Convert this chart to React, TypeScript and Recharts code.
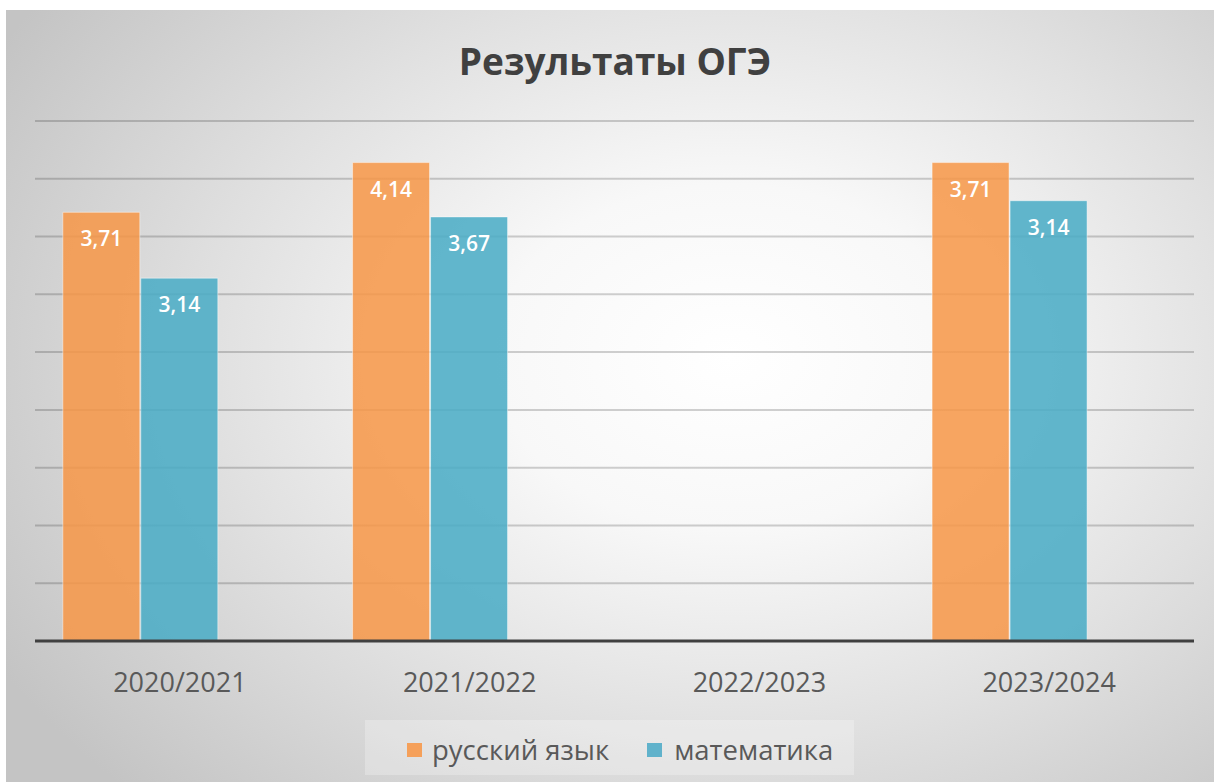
import React from 'react';
import { BarChart, Bar, XAxis, YAxis, CartesianGrid, LabelList } from 'recharts';

// учебные годы
const years = ['2020/2021', '2021/2022', '2022/2023', '2023/2024'];
// высота столбцов (как на картинке)
const russian = [3.71, 4.14, null, 4.14];
const math = [3.14, 3.67, null, 3.81];
// подписи на столбцах
const russianLabels = ['3,71', '4,14', '', '3,71'];
const mathLabels = ['3,14', '3,67', '', '3,14'];
const yTicks = [0, 0.5, 1, 1.5, 2, 2.5, 3, 3.5, 4, 4.5];

const data = years.map((year, i) => ({
  year,
  russian: russian[i],
  math: math[i],
  extra: null,
  ruLabel: russianLabels[i],
  mathLabel: mathLabels[i],
}));

const FONT = '"Open Sans", "Noto Sans", sans-serif';

const App: React.FC = () => {
  return (
    <div
      style={{
        position: 'absolute',
        left: 0,
        top: 0,
        width: 1214,
        height: 782,
        background: '#ffffff',
        overflow: 'hidden',
        fontFamily: FONT,
      }}>
      <div
        style={{
          position: 'absolute',
          left: 6,
          top: 10,
          width: 1208,
          height: 772,
          background:
            'radial-gradient(ellipse 70% 80% at 60% 45%, #ffffff 0%, #f8f8f8 28%, #e0e0e0 62%, #c4c4c4 100%)',
        }}
      />
      <div
        style={{
          position: 'absolute',
          left: 0,
          top: 35,
          width: 1230,
          textAlign: 'center',
          fontSize: 37,
          fontWeight: 'bold',
          color: '#404040',
        }}>
        Результаты ОГЭ
      </div>
      <div style={{ position: 'absolute', left: 0, top: 0 }}>
        <BarChart
          width={1214}
          height={782}
          data={data}
          barCategoryGap="9.6%"
          barGap={1}
          margin={{ top: 121, right: 20, left: 35, bottom: 81 }}>
          <CartesianGrid
            vertical={false}
            stroke="rgba(0,0,0,0.18)"
            strokeWidth={2}
          />
          <YAxis hide domain={[0, 4.5]} ticks={yTicks} />
          <XAxis
            dataKey="year"
            height={60}
            tickLine={false}
            tickSize={0}
            tickMargin={32}
            axisLine={{ stroke: '#404040', strokeWidth: 3 }}
            tick={{ fontSize: 27, fill: '#595959', fontFamily: FONT }}
          />
          <Bar
            dataKey="russian"
            fill="#F79646"
            fillOpacity={0.85}
            stroke="rgba(255,255,255,0.45)"
            strokeWidth={1}
            isAnimationActive={false}>
            <LabelList
              dataKey="ruLabel"
              position="insideTop"
              offset={19}
              fill="#ffffff"
              fontSize={21}
              fontWeight={600}
              fontFamily={FONT}
            />
          </Bar>
          <Bar
            dataKey="math"
            fill="#4BACC6"
            fillOpacity={0.87}
            stroke="rgba(255,255,255,0.45)"
            strokeWidth={1}
            isAnimationActive={false}>
            <LabelList
              dataKey="mathLabel"
              position="insideTop"
              offset={19}
              fill="#ffffff"
              fontSize={21}
              fontWeight={600}
              fontFamily={FONT}
            />
          </Bar>
          <Bar dataKey="extra" fill="none" legendType="none" isAnimationActive={false} />
        </BarChart>
      </div>
      <div
        style={{
          position: 'absolute',
          left: 365,
          top: 720,
          width: 489,
          height: 55,
          background: 'rgba(255,255,255,0.25)',
        }}
      />
      <div
        style={{
          position: 'absolute',
          left: 407,
          top: 731,
          display: 'flex',
          alignItems: 'center',
          fontSize: 27.5,
          color: '#595959',
          whiteSpace: 'nowrap',
        }}>
        <span style={{ width: 15, height: 14, background: '#F5A05A', marginRight: 10 }} />
        <span style={{ marginRight: 38 }}>русский язык</span>
        <span style={{ width: 15, height: 14, background: '#60B2CB', marginRight: 12 }} />
        <span>математика</span>
      </div>
    </div>
  );
};

export default App;
